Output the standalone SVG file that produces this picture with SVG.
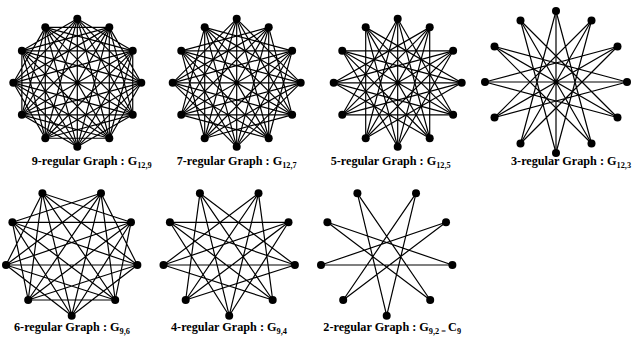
<svg xmlns="http://www.w3.org/2000/svg" width="634" height="345" viewBox="0 0 634 345">
<style>
.e{fill:none;stroke:#000;stroke-width:1.2}
.v{fill:#000}
.lbl{font-family:"Liberation Serif","Times New Roman",serif;font-weight:bold;font-size:12.2px;fill:#000}
.sub{font-size:8.3px}
</style>
<rect width="634" height="345" fill="#fff"/>
<g id="connectors">
<g id="c-g12-9" transform="translate(77.3,82.8)">
<path class="e" d="M0,-64L55.43,-32M32,-55.43L64,0M55.43,-32L55.43,32M64,0L32,55.43M55.43,32L0,64M32,55.43L-32,55.43M0,64L-55.43,32M-32,55.43L-64,0M-55.43,32L-55.43,-32M-64,0L-32,-55.43M-55.43,-32L0,-64M-32,-55.43L32,-55.43"/>
<path class="e" d="M0,-64L64,0M32,-55.43L55.43,32M55.43,-32L32,55.43M64,0L0,64M55.43,32L-32,55.43M32,55.43L-55.43,32M0,64L-64,0M-32,55.43L-55.43,-32M-55.43,32L-32,-55.43M-64,0L0,-64M-55.43,-32L32,-55.43M-32,-55.43L55.43,-32"/>
<path class="e" d="M0,-64L55.43,32M32,-55.43L32,55.43M55.43,-32L0,64M64,0L-32,55.43M55.43,32L-55.43,32M32,55.43L-64,0M0,64L-55.43,-32M-32,55.43L-32,-55.43M-55.43,32L0,-64M-64,0L32,-55.43M-55.43,-32L55.43,-32M-32,-55.43L64,0"/>
<path class="e" d="M0,-64L32,55.43M32,-55.43L0,64M55.43,-32L-32,55.43M64,0L-55.43,32M55.43,32L-64,0M32,55.43L-55.43,-32M0,64L-32,-55.43M-32,55.43L0,-64M-55.43,32L32,-55.43M-64,0L55.43,-32M-55.43,-32L64,0M-32,-55.43L55.43,32"/>
<path class="e" d="M0,-64L0,64M32,-55.43L-32,55.43M55.43,-32L-55.43,32M64,0L-64,0M55.43,32L-55.43,-32M32,55.43L-32,-55.43"/>
</g>
<g id="c-g12-7" transform="translate(236.7,82.8)">
<path class="e" d="M0,-64L64,0M32,-55.43L55.43,32M55.43,-32L32,55.43M64,0L0,64M55.43,32L-32,55.43M32,55.43L-55.43,32M0,64L-64,0M-32,55.43L-55.43,-32M-55.43,32L-32,-55.43M-64,0L0,-64M-55.43,-32L32,-55.43M-32,-55.43L55.43,-32"/>
<path class="e" d="M0,-64L55.43,32M32,-55.43L32,55.43M55.43,-32L0,64M64,0L-32,55.43M55.43,32L-55.43,32M32,55.43L-64,0M0,64L-55.43,-32M-32,55.43L-32,-55.43M-55.43,32L0,-64M-64,0L32,-55.43M-55.43,-32L55.43,-32M-32,-55.43L64,0"/>
<path class="e" d="M0,-64L32,55.43M32,-55.43L0,64M55.43,-32L-32,55.43M64,0L-55.43,32M55.43,32L-64,0M32,55.43L-55.43,-32M0,64L-32,-55.43M-32,55.43L0,-64M-55.43,32L32,-55.43M-64,0L55.43,-32M-55.43,-32L64,0M-32,-55.43L55.43,32"/>
<path class="e" d="M0,-64L0,64M32,-55.43L-32,55.43M55.43,-32L-55.43,32M64,0L-64,0M55.43,32L-55.43,-32M32,55.43L-32,-55.43"/>
</g>
<g id="c-g12-5" transform="translate(397.7,82.8)">
<path class="e" d="M0,-64L55.43,32M32,-55.43L32,55.43M55.43,-32L0,64M64,0L-32,55.43M55.43,32L-55.43,32M32,55.43L-64,0M0,64L-55.43,-32M-32,55.43L-32,-55.43M-55.43,32L0,-64M-64,0L32,-55.43M-55.43,-32L55.43,-32M-32,-55.43L64,0"/>
<path class="e" d="M0,-64L32,55.43M32,-55.43L0,64M55.43,-32L-32,55.43M64,0L-55.43,32M55.43,32L-64,0M32,55.43L-55.43,-32M0,64L-32,-55.43M-32,55.43L0,-64M-55.43,32L32,-55.43M-64,0L55.43,-32M-55.43,-32L64,0M-32,-55.43L55.43,32"/>
<path class="e" d="M0,-64L0,64M32,-55.43L-32,55.43M55.43,-32L-55.43,32M64,0L-64,0M55.43,32L-55.43,-32M32,55.43L-32,-55.43"/>
</g>
<g id="c-g12-3" transform="translate(556,82)">
<path class="e" d="M0,-71L35.5,61.49M35.5,-61.49L0,71M61.49,-35.5L-35.5,61.49M71,0L-61.49,35.5M61.49,35.5L-71,0M35.5,61.49L-61.49,-35.5M0,71L-35.5,-61.49M-35.5,61.49L0,-71M-61.49,35.5L35.5,-61.49M-71,0L61.49,-35.5M-61.49,-35.5L71,0M-35.5,-61.49L61.49,35.5"/>
<path class="e" d="M0,-71L0,71M35.5,-61.49L-35.5,61.49M61.49,-35.5L-61.49,35.5M71,0L-71,0M61.49,35.5L-61.49,-35.5M35.5,61.49L-35.5,-61.49"/>
</g>
<g id="c-g9-6" transform="translate(71.7,0)">
<path class="e" d="M0,315.7L65.7,265M43.5,300L59.3,222.3M65.7,265L29.3,193.3M59.3,222.3L-29.3,193.3M29.3,193.3L-59.3,222.3M-29.3,193.3L-65.7,265M-59.3,222.3L-43.5,300M-65.7,265L0,315.7M-43.5,300L43.5,300"/>
<path class="e" d="M0,315.7L59.3,222.3M43.5,300L29.3,193.3M65.7,265L-29.3,193.3M59.3,222.3L-59.3,222.3M29.3,193.3L-65.7,265M-29.3,193.3L-43.5,300M-59.3,222.3L0,315.7M-65.7,265L43.5,300M-43.5,300L65.7,265"/>
<path class="e" d="M0,315.7L29.3,193.3M43.5,300L-29.3,193.3M65.7,265L-59.3,222.3M59.3,222.3L-65.7,265M29.3,193.3L-43.5,300M-29.3,193.3L0,315.7M-59.3,222.3L43.5,300M-65.7,265L65.7,265M-43.5,300L59.3,222.3"/>
</g>
<g id="c-g9-4" transform="translate(229.2,0)">
<path class="e" d="M0,315.7L59.3,222.3M43.5,300L29.3,193.3M65.7,265L-29.3,193.3M59.3,222.3L-59.3,222.3M29.3,193.3L-65.7,265M-29.3,193.3L-43.5,300M-59.3,222.3L0,315.7M-65.7,265L43.5,300M-43.5,300L65.7,265"/>
<path class="e" d="M0,315.7L29.3,193.3M43.5,300L-29.3,193.3M65.7,265L-59.3,222.3M59.3,222.3L-65.7,265M29.3,193.3L-43.5,300M-29.3,193.3L0,315.7M-59.3,222.3L43.5,300M-65.7,265L65.7,265M-43.5,300L59.3,222.3"/>
</g>
<g id="c-g9-2" transform="translate(386.7,0)">
<path class="e" d="M0,315.7L29.3,193.3M43.5,300L-29.3,193.3M65.7,265L-59.3,222.3M59.3,222.3L-65.7,265M29.3,193.3L-43.5,300M-29.3,193.3L0,315.7M-59.3,222.3L43.5,300M-65.7,265L65.7,265M-43.5,300L59.3,222.3"/>
</g>
</g>
<g id="g12-9" transform="translate(77.3,82.8)">
<g id="g12-9-v0"><circle class="v" cx="0" cy="-64" r="4"/></g>
<g id="g12-9-v1"><circle class="v" cx="32" cy="-55.43" r="4"/></g>
<g id="g12-9-v2"><circle class="v" cx="55.43" cy="-32" r="4"/></g>
<g id="g12-9-v3"><circle class="v" cx="64" cy="0" r="4"/></g>
<g id="g12-9-v4"><circle class="v" cx="55.43" cy="32" r="4"/></g>
<g id="g12-9-v5"><circle class="v" cx="32" cy="55.43" r="4"/></g>
<g id="g12-9-v6"><circle class="v" cx="0" cy="64" r="4"/></g>
<g id="g12-9-v7"><circle class="v" cx="-32" cy="55.43" r="4"/></g>
<g id="g12-9-v8"><circle class="v" cx="-55.43" cy="32" r="4"/></g>
<g id="g12-9-v9"><circle class="v" cx="-64" cy="0" r="4"/></g>
<g id="g12-9-v10"><circle class="v" cx="-55.43" cy="-32" r="4"/></g>
<g id="g12-9-v11"><circle class="v" cx="-32" cy="-55.43" r="4"/></g>
</g>
<g id="g12-7" transform="translate(236.7,82.8)">
<g id="g12-7-v0"><circle class="v" cx="0" cy="-64" r="4"/></g>
<g id="g12-7-v1"><circle class="v" cx="32" cy="-55.43" r="4"/></g>
<g id="g12-7-v2"><circle class="v" cx="55.43" cy="-32" r="4"/></g>
<g id="g12-7-v3"><circle class="v" cx="64" cy="0" r="4"/></g>
<g id="g12-7-v4"><circle class="v" cx="55.43" cy="32" r="4"/></g>
<g id="g12-7-v5"><circle class="v" cx="32" cy="55.43" r="4"/></g>
<g id="g12-7-v6"><circle class="v" cx="0" cy="64" r="4"/></g>
<g id="g12-7-v7"><circle class="v" cx="-32" cy="55.43" r="4"/></g>
<g id="g12-7-v8"><circle class="v" cx="-55.43" cy="32" r="4"/></g>
<g id="g12-7-v9"><circle class="v" cx="-64" cy="0" r="4"/></g>
<g id="g12-7-v10"><circle class="v" cx="-55.43" cy="-32" r="4"/></g>
<g id="g12-7-v11"><circle class="v" cx="-32" cy="-55.43" r="4"/></g>
</g>
<g id="g12-5" transform="translate(397.7,82.8)">
<g id="g12-5-v0"><circle class="v" cx="0" cy="-64" r="4"/></g>
<g id="g12-5-v1"><circle class="v" cx="32" cy="-55.43" r="4"/></g>
<g id="g12-5-v2"><circle class="v" cx="55.43" cy="-32" r="4"/></g>
<g id="g12-5-v3"><circle class="v" cx="64" cy="0" r="4"/></g>
<g id="g12-5-v4"><circle class="v" cx="55.43" cy="32" r="4"/></g>
<g id="g12-5-v5"><circle class="v" cx="32" cy="55.43" r="4"/></g>
<g id="g12-5-v6"><circle class="v" cx="0" cy="64" r="4"/></g>
<g id="g12-5-v7"><circle class="v" cx="-32" cy="55.43" r="4"/></g>
<g id="g12-5-v8"><circle class="v" cx="-55.43" cy="32" r="4"/></g>
<g id="g12-5-v9"><circle class="v" cx="-64" cy="0" r="4"/></g>
<g id="g12-5-v10"><circle class="v" cx="-55.43" cy="-32" r="4"/></g>
<g id="g12-5-v11"><circle class="v" cx="-32" cy="-55.43" r="4"/></g>
</g>
<g id="g12-3" transform="translate(556,82)">
<g id="g12-3-v0"><circle class="v" cx="0" cy="-71" r="4"/></g>
<g id="g12-3-v1"><circle class="v" cx="35.5" cy="-61.49" r="4"/></g>
<g id="g12-3-v2"><circle class="v" cx="61.49" cy="-35.5" r="4"/></g>
<g id="g12-3-v3"><circle class="v" cx="71" cy="0" r="4"/></g>
<g id="g12-3-v4"><circle class="v" cx="61.49" cy="35.5" r="4"/></g>
<g id="g12-3-v5"><circle class="v" cx="35.5" cy="61.49" r="4"/></g>
<g id="g12-3-v6"><circle class="v" cx="0" cy="71" r="4"/></g>
<g id="g12-3-v7"><circle class="v" cx="-35.5" cy="61.49" r="4"/></g>
<g id="g12-3-v8"><circle class="v" cx="-61.49" cy="35.5" r="4"/></g>
<g id="g12-3-v9"><circle class="v" cx="-71" cy="0" r="4"/></g>
<g id="g12-3-v10"><circle class="v" cx="-61.49" cy="-35.5" r="4"/></g>
<g id="g12-3-v11"><circle class="v" cx="-35.5" cy="-61.49" r="4"/></g>
</g>
<g id="g9-6" transform="translate(71.7,0)">
<g id="g9-6-v0"><circle class="v" cx="0" cy="315.7" r="4"/></g>
<g id="g9-6-v1"><circle class="v" cx="43.5" cy="300" r="4"/></g>
<g id="g9-6-v2"><circle class="v" cx="65.7" cy="265" r="4"/></g>
<g id="g9-6-v3"><circle class="v" cx="59.3" cy="222.3" r="4"/></g>
<g id="g9-6-v4"><circle class="v" cx="29.3" cy="193.3" r="4"/></g>
<g id="g9-6-v5"><circle class="v" cx="-29.3" cy="193.3" r="4"/></g>
<g id="g9-6-v6"><circle class="v" cx="-59.3" cy="222.3" r="4"/></g>
<g id="g9-6-v7"><circle class="v" cx="-65.7" cy="265" r="4"/></g>
<g id="g9-6-v8"><circle class="v" cx="-43.5" cy="300" r="4"/></g>
</g>
<g id="g9-4" transform="translate(229.2,0)">
<g id="g9-4-v0"><circle class="v" cx="0" cy="315.7" r="4"/></g>
<g id="g9-4-v1"><circle class="v" cx="43.5" cy="300" r="4"/></g>
<g id="g9-4-v2"><circle class="v" cx="65.7" cy="265" r="4"/></g>
<g id="g9-4-v3"><circle class="v" cx="59.3" cy="222.3" r="4"/></g>
<g id="g9-4-v4"><circle class="v" cx="29.3" cy="193.3" r="4"/></g>
<g id="g9-4-v5"><circle class="v" cx="-29.3" cy="193.3" r="4"/></g>
<g id="g9-4-v6"><circle class="v" cx="-59.3" cy="222.3" r="4"/></g>
<g id="g9-4-v7"><circle class="v" cx="-65.7" cy="265" r="4"/></g>
<g id="g9-4-v8"><circle class="v" cx="-43.5" cy="300" r="4"/></g>
</g>
<g id="g9-2" transform="translate(386.7,0)">
<g id="g9-2-v0"><circle class="v" cx="0" cy="315.7" r="4"/></g>
<g id="g9-2-v1"><circle class="v" cx="43.5" cy="300" r="4"/></g>
<g id="g9-2-v2"><circle class="v" cx="65.7" cy="265" r="4"/></g>
<g id="g9-2-v3"><circle class="v" cx="59.3" cy="222.3" r="4"/></g>
<g id="g9-2-v4"><circle class="v" cx="29.3" cy="193.3" r="4"/></g>
<g id="g9-2-v5"><circle class="v" cx="-29.3" cy="193.3" r="4"/></g>
<g id="g9-2-v6"><circle class="v" cx="-59.3" cy="222.3" r="4"/></g>
<g id="g9-2-v7"><circle class="v" cx="-65.7" cy="265" r="4"/></g>
<g id="g9-2-v8"><circle class="v" cx="-43.5" cy="300" r="4"/></g>
</g>
<g id="labels">
<text class="lbl" x="31.7" y="165">9-regular Graph : G<tspan class="sub" dy="3">12,9</tspan></text>
<text class="lbl" x="176.7" y="165">7-regular Graph : G<tspan class="sub" dy="3">12,7</tspan></text>
<text class="lbl" x="330.7" y="165">5-regular Graph : G<tspan class="sub" dy="3">12,5</tspan></text>
<text class="lbl" x="511" y="165">3-regular Graph : G<tspan class="sub" dy="3">12,3</tspan></text>
<text class="lbl" x="14" y="331">6-regular Graph : G<tspan class="sub" dy="3">9,6</tspan></text>
<text class="lbl" x="171" y="331">4-regular Graph : G<tspan class="sub" dy="3">9,4</tspan></text>
<text class="lbl" x="323.3" y="331">2-regular Graph : G<tspan class="sub" dy="3">9,2 = </tspan><tspan dy="-3">C</tspan><tspan class="sub" dy="3">9</tspan></text>
</g>
</svg>
